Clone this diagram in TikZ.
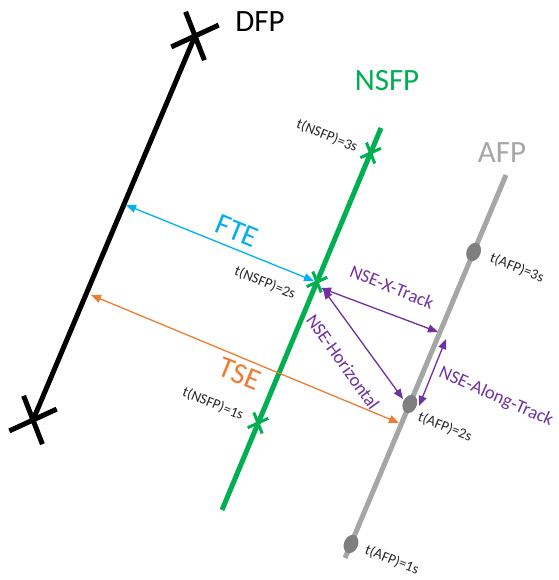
\documentclass[tikz,border=0pt]{standalone}
\usepackage{fontspec}
\setmainfont{Carlito}
\usetikzlibrary{arrows.meta,shapes.geometric,calc}
\definecolor{nsgreen}{HTML}{00B050}
\definecolor{afpgray}{HTML}{A6A6A6}
\definecolor{dotgray}{HTML}{7F7F7F}
\definecolor{ftecyan}{HTML}{00B0F0}
\definecolor{tseorange}{HTML}{ED7D31}
\definecolor{nsepurple}{HTML}{7030A0}
\definecolor{tlabel}{HTML}{262626}
\tikzset{
  biglabel/.style={inner sep=0pt, font=\fontsize{31}{36}\selectfont},
  errlabel/.style={inner sep=0pt, rotate=-22, font=\fontsize{30}{35}\selectfont},
  nselabel/.style={inner sep=0pt, text=nsepurple, font=\fontsize{18.5}{22}\selectfont},
  tlab/.style={inner sep=0pt, rotate=-22, text=tlabel, font=\fontsize{14.5}{17}\selectfont},
  errarrow/.style={line width=1.3pt, {Triangle[length=10pt,width=8pt]}-{Triangle[length=10pt,width=8pt]}},
  afpdot/.style={ellipse, fill=dotgray, minimum width=14pt, minimum height=19pt, inner sep=0pt, rotate=-23},
  bigcross/.pic={\draw[line width=5pt] (-9.4,-24.2) -- (9.4,24.2) (-23.7,10.9) -- (23.7,-10.9);},
  smallcross/.pic={\draw[nsgreen, line width=3pt] (-4.2,-10.5) -- (4.2,10.5) (-10.3,4.7) -- (10.3,-4.7);}
}
\begin{document}
\begin{tikzpicture}[x=1pt,y=-1pt]
\useasboundingbox (0,0) rectangle (558,580);
% DFP
\coordinate (dfpT) at (195,36);
\coordinate (dfpB) at (33,420);
\draw[line width=5pt] (dfpT) -- (dfpB);
\pic at (dfpT) {bigcross};
\pic at (dfpB) {bigcross};
\node[biglabel] (dfpl) at (260,22) {DFP};
% NSFP
\coordinate (nT) at (381,128);
\coordinate (nB) at (222,510);
\draw[nsgreen, line width=5pt] (nT) -- (nB);
\coordinate (n3) at (370.6,153);
\coordinate (n2) at (317,282);
\coordinate (n1) at (258,423);
\pic at (n3) {smallcross};
\pic at (n2) {smallcross};
\pic at (n1) {smallcross};
\node[biglabel, text=nsgreen] (nsfpl) at (387,81) {NSFP};
\node[tlab] (tn3) at (327,136) {t(NSFP)=3s};
\node[tlab] (tn2) at (265,283) {t(NSFP)=2s};
\node[tlab] (tn1) at (213,404) {t(NSFP)=1s};
% AFP
\coordinate (aT) at (506,175);
\coordinate (aB) at (345,558);
\draw[afpgray, line width=5pt] (aT) -- (aB);
\node[afpdot] (a3) at (473.6,252) {};
\node[afpdot] (a2) at (409.8,404) {};
\node[afpdot] (a1) at (351,544) {};
\node[biglabel, text=afpgray] (afpl) at (502,153) {AFP};
\node[tlab] (ta3) at (517,268) {t(AFP)=3s};
\node[tlab] (ta2) at (445,427) {t(AFP)=2s};
\node[tlab] (ta1) at (392,560) {t(AFP)=1s};
% FTE
\coordinate (fteL) at (126,205);
\coordinate (fteR) at (314,281);
\draw[errarrow, ftecyan] (fteL) -- (fteR);
\node[errlabel, text=ftecyan] (ftel) at (237,231) {FTE};
% TSE
\coordinate (tseL) at (91,295);
\coordinate (tseR) at (399,423);
\draw[errarrow, tseorange] (tseL) -- (tseR);
\node[errlabel, text=tseorange] (tsel) at (240,374) {TSE};
% NSE
\coordinate (xL) at (321,288);
\coordinate (xR) at (438,332);
\draw[errarrow, nsepurple] (xL) -- (xR);
\node[nselabel, rotate=-22] (xl) at (392,287) {NSE-X-Track};
\coordinate (hT) at (323,289);
\coordinate (hB) at (403,399);
\draw[errarrow, nsepurple] (hT) -- (hB);
\node[nselabel, rotate=-54.5] (hl) at (343,362) {NSE-Horizontal};
\coordinate (alT) at (446,339);
\coordinate (alB) at (419,406);
\draw[errarrow, nsepurple] (alT) -- (alB);
\node[nselabel, rotate=-24] (all) at (496,397) {NSE-Along-Track};
\end{tikzpicture}
\end{document}
